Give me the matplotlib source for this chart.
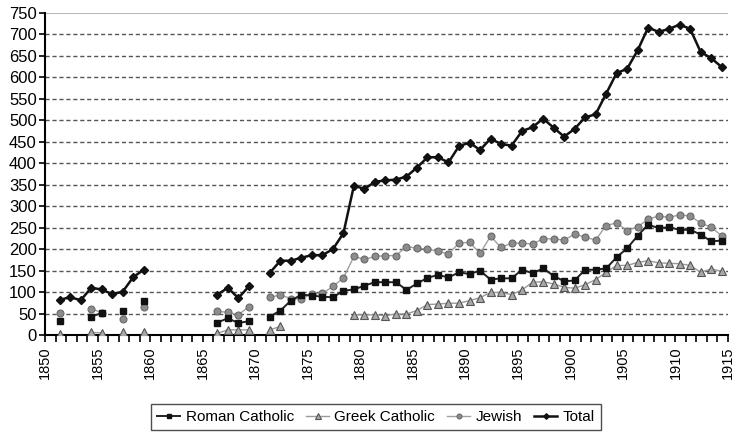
import numpy as np
import matplotlib
matplotlib.use("Agg")
import matplotlib.pyplot as plt
from matplotlib.ticker import MultipleLocator

plt.rcParams['font.family'] = ['Liberation Sans', 'DejaVu Sans']

nan = np.nan
years = np.arange(1851, 1915)

# 1851 .. 1914, nan where there is no record
total = [82, 88, 81, 110, 106, 95, 101, 135, 152,
         nan, nan, nan, nan, nan, nan,
         94, 110, 86, 113, nan,
         145, 173, 173, 180, 186, 186, 200, 237, 348, 340,
         357, 360, 362, 369, 390, 414, 414, 402, 440, 448,
         431, 457, 445, 441, 475, 484, 504, 483, 462, 480,
         507, 514, 562, 610, 620, 663, 716, 706, 713, 723,
         713, 659, 645, 624]
roman = [32, nan, nan, 43, 51, nan, 57, nan, 80,
         nan, nan, nan, nan, nan, nan,
         29, 39, 28, 32, nan,
         43, 57, 80, 94, 92, 89, 88, 103, 106, 115,
         123, 123, 123, 105, 120, 133, 140, 134, 146, 142,
         150, 129, 132, 132, 152, 144, 155, 138, 125, 127,
         152, 152, 155, 181, 202, 231, 257, 249, 251, 245,
         245, 234, 218, 220]
greek = [2, nan, nan, 6, 5, nan, 6, nan, 7,
         nan, nan, nan, nan, nan, nan,
         4, 12, 12, 12, nan,
         12, 20, nan, nan, nan, nan, nan, nan, 47, 47,
         47, 45, 49, 49, 57, 71, 72, 74, 74, 80,
         87, 99, 99, 94, 105, 123, 124, 119, 111, 109,
         117, 129, 146, 162, 162, 169, 173, 168, 167, 166,
         162, 146, 154, 148]
jewish = [51, nan, nan, 61, 52, nan, 37, nan, 66,
          nan, nan, nan, nan, nan, nan,
          55, 53, 47, 66, nan,
          88, 93, 85, 84, 96, 97, 113, 133, 183, 176,
          183, 185, 185, 206, 202, 200, 195, 189, 214, 216,
          190, 230, 204, 214, 214, 212, 224, 224, 221, 235,
          228, 221, 255, 261, 243, 252, 270, 277, 274, 280,
          277, 261, 251, 231]

# points sit a little to the right of the year tick in the original
xpos = years + 0.4

fig = plt.figure(figsize=(7.34, 4.32), dpi=100)
ax = fig.add_axes([45/734, 97/432, 683/734, 322/432])

ax.plot(xpos, roman, color='#222222', lw=1.4, marker='s', ms=5,
        mfc='#111111', mec='#111111', label='Roman Catholic', zorder=4)
ax.plot(xpos, greek, color='#9a9a9a', lw=1.0, marker='^', ms=5.5,
        mfc='#a8a8a8', mec='#555555', mew=0.8, label='Greek Catholic', zorder=3)
ax.plot(xpos, jewish, color='#a0a0a0', lw=1.0, marker='o', ms=5,
        mfc='#8c8c8c', mec='#6a6a6a', mew=0.8, label='Jewish', zorder=3)
ax.plot(xpos, total, color='#111111', lw=1.8, marker='D', ms=4,
        mfc='#111111', mec='#111111', label='Total', zorder=5)

ax.set_xlim(1850, 1915)
ax.set_ylim(0, 750)
ax.xaxis.set_major_locator(MultipleLocator(5))
ax.xaxis.set_minor_locator(MultipleLocator(1))
ax.yaxis.set_major_locator(MultipleLocator(50))
ax.tick_params(axis='x', which='both', direction='out', length=5, width=1.2,
               labelsize=10.5, labelrotation=90, pad=3)
ax.tick_params(axis='y', direction='out', length=4, width=1.2, labelsize=12, pad=2)

for v in range(50, 750, 50):
    ax.axhline(v, color='#555555', lw=1.0, ls=(0, (3, 2)), zorder=1)
ax.axhline(750, color='#bbbbbb', lw=1.5, zorder=1)

for s in ['top', 'right']:
    ax.spines[s].set_visible(False)
ax.spines['left'].set_linewidth(1.5)
ax.spines['bottom'].set_linewidth(1.5)

leg = fig.legend(loc='upper center', bbox_to_anchor=(376/734, 28/432), ncol=4,
                 fontsize=11, frameon=True, fancybox=False, edgecolor='#222222',
                 handlelength=1.5, handletextpad=0.35, columnspacing=0.8,
                 borderpad=0.4, borderaxespad=0, markerscale=0.7)
leg.get_frame().set_linewidth(1.0)

fig.savefig('out.png', dpi=100)
